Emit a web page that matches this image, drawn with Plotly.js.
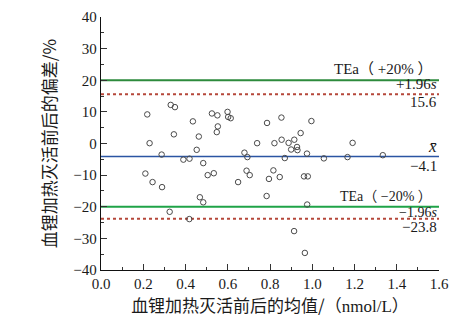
<!DOCTYPE html>
<html>
<head>
<meta charset="utf-8">
<script src="https://cdn.plot.ly/plotly-3.0.1.min.js"></script>
<style>html,body{margin:0;padding:0;background:#fff;}#chart{width:476px;height:326px;}</style>
</head>
<body>
<div id="chart"></div>
<script>
// Mean of before/after (nmol/L)
const meanVals = [0.219,0.330,0.350,0.435,0.525,0.551,0.599,0.602,0.614,0.553,
  0.548,0.345,0.463,0.230,0.453,0.739,0.786,0.854,0.821,0.855,
  0.888,0.915,0.945,0.996,1.191,0.928,0.900,0.930,0.975,1.055,
  1.167,1.334,0.870,0.679,0.693,0.287,0.390,0.419,0.484,0.210,
  0.505,0.534,0.244,0.289,0.468,0.484,0.325,0.418,0.649,0.689,
  0.704,0.816,0.846,0.795,0.784,0.961,0.979,0.976,0.914,0.965];
// Bias (%)
const biasVals = [9.2,12.2,11.5,7.0,9.5,8.9,10.0,8.4,8.0,5.4,
  3.6,2.9,2.2,0.1,-2.0,0.1,6.5,8.2,0.1,1.2,
  0.2,1.2,3.3,7.1,0.2,-1.1,-1.9,-2.1,-3.2,-4.7,
  -4.3,-3.7,-4.6,-2.9,-4.3,-3.5,-5.1,-4.8,-6.2,-9.5,
  -10.0,-9.4,-12.2,-13.8,-17.0,-18.6,-21.6,-23.9,-12.2,-8.6,
  -10.0,-8.5,-10.6,-11.2,-16.6,-10.4,-10.4,-19.3,-27.7,-34.6];
const lineSpan = [0, 1.6];
const teaUpper = 20, upperLoA = 15.6, meanBias = -4.1, teaLower = -20, lowerLoA = -23.8;
const xTicks = [0.0,0.2,0.4,0.6,0.8,1.0,1.2,1.4,1.6];
const xTickText = ['0.0','0.2','0.4','0.6','0.8','1.0','1.2','1.4','1.6'];
const yTicks = [-40,-30,-20,-10,0,10,20,30,40];

const serif = '"Liberation Serif","Times New Roman","Noto Sans CJK SC",serif';
const cjk = '"Noto Sans CJK SC","Liberation Serif",sans-serif';

function hline(y, color, dash, width) {
  return {x: lineSpan, y: [y, y], mode: 'lines', type: 'scatter', hoverinfo: 'skip',
    line: {color: color, width: width, dash: dash}, showlegend: false};
}

const traces = [
  hline(teaUpper, '#2d8a3c', 'solid', 2),
  hline(upperLoA, '#b5473a', 'dot', 2),
  hline(meanBias, '#2b55a3', 'solid', 1.6),
  hline(teaLower, '#1fa347', 'solid', 2),
  hline(lowerLoA, '#b5473a', 'dot', 2),
  {x: meanVals, y: biasVals, mode: 'markers', type: 'scatter', showlegend: false,
    marker: {symbol: 'circle-open', size: 5.5, color: '#4a4a4a', line: {width: 1, color: '#4a4a4a'}}}
];

const xr = 1.6;
function ann(text, y, yshift, size) {
  return {x: xr, y: y, xref: 'x', yref: 'y', text: text, showarrow: false,
    xanchor: 'right', yanchor: 'middle', yshift: yshift,
    font: {family: serif, size: size || 15, color: '#1a1a1a'}};
}
const sf = 'font-family:Liberation Serif';

const layout = {
  width: 476, height: 326,
  margin: {l: 101, r: 37, t: 17, b: 56},
  paper_bgcolor: '#fff', plot_bgcolor: '#fff',
  font: {family: serif, size: 15, color: '#1a1a1a'},
  xaxis: {
    range: [0, 1.6], tickvals: xTicks, ticktext: xTickText,
    showgrid: false, zeroline: false, showline: true, linecolor: '#111', linewidth: 1.2,
    ticks: 'inside', ticklen: 6, tickcolor: '#333', tickwidth: 1,
    minor: {dtick: 0.1, ticks: 'inside', ticklen: 3, tickcolor: '#333', tickwidth: 1, showgrid: false},
    tickfont: {family: serif, size: 15, color: '#1a1a1a'},
    title: {text: '血锂加热灭活前后的均值/（<span style="' + sf + '">nmol/L</span>）', font: {family: cjk, size: 17, color: '#1a1a1a'}, standoff: 6}
  },
  yaxis: {
    range: [-40, 40], tickvals: yTicks,
    showgrid: false, zeroline: false, showline: true, linecolor: '#111', linewidth: 1.2,
    ticks: 'inside', ticklen: 6, tickcolor: '#333', tickwidth: 1,
    minor: {dtick: 5, ticks: 'inside', ticklen: 3, tickcolor: '#333', tickwidth: 1, showgrid: false},
    tickfont: {family: serif, size: 15, color: '#1a1a1a'},
    title: {text: '血锂加热灭活前后的偏差/%', font: {family: cjk, size: 17, color: '#1a1a1a'}, standoff: 12}
  },
  annotations: [
    Object.assign(ann('TEa（ +20% ）', teaUpper, 11), {xshift: -5}),
    ann('+1.96<i>s</i>', upperLoA, 10),
    ann(String(upperLoA), upperLoA, -8),
    ann('<i>x̄</i>', meanBias, 10, 17),
    ann('−' + Math.abs(meanBias), meanBias, -10),
    Object.assign(ann('TEa（ −20% ）', teaLower, 10, 14), {xshift: -5}),
    ann('−1.96<i>s</i>', lowerLoA, 6, 14),
    ann('−' + Math.abs(lowerLoA), lowerLoA, -8)
  ]
};

Plotly.newPlot('chart', traces, layout, {staticPlot: true, displayModeBar: false});
</script>
</body>
</html>
